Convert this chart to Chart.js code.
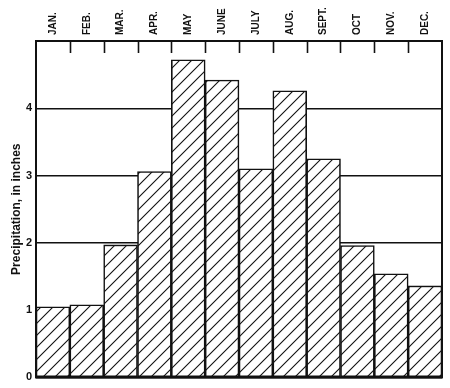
<!DOCTYPE html>
<html>
<head>
<meta charset="utf-8">
<script src="https://cdn.jsdelivr.net/npm/chart.js@4/dist/chart.umd.min.js"></script>
<style>
  html, body { margin: 0; padding: 0; background: #fff; }
  #wrap { width: 450px; height: 388px; }
</style>
</head>
<body>
<div id="wrap"><canvas id="chartPrecip"></canvas></div>
<script>
(function() {
    'use strict';

    var months = ['JAN.', 'FEB.', 'MAR.', 'APR.', 'MAY', 'JUNE', 'JULY', 'AUG.', 'SEPT.', 'OCT', 'NOV.', 'DEC.'];
    var precip = [1.05, 1.08, 1.97, 3.06, 4.72, 4.42, 3.10, 4.26, 3.25, 1.96, 1.54, 1.36];
    var yTicks = [0, 1, 2, 3, 4, 5];

    // hatch "/" pattern
    function hatch() {
        var s = 12;
        var c = document.createElement('canvas');
        c.width = s; c.height = s;
        var g = c.getContext('2d');
        g.fillStyle = '#fff';
        g.fillRect(0, 0, s, s);
        g.strokeStyle = '#111';
        g.lineWidth = 1.1;
        g.beginPath();
        g.moveTo(-1, s + 1); g.lineTo(s + 1, -1);
        g.moveTo(-1, 1); g.lineTo(1, -1);
        g.moveTo(s - 1, s + 1); g.lineTo(s + 1, s - 1);
        g.stroke();
        return g.createPattern(c, 'repeat');
    }

    // frame + short month ticks along the top
    var framePlugin = {
        id: 'frame',
        afterDraw: function(chart) {
            var a = chart.chartArea, ctx = chart.ctx, x = chart.scales.x;
            var w = (a.right - a.left) / months.length;
            ctx.save();
            ctx.strokeStyle = '#111';
            ctx.lineWidth = 1.6;
            for (var i = 1; i < months.length; i++) {
                var px = Math.round(x.getPixelForValue(i) - w / 2) + 0.5;
                ctx.beginPath();
                ctx.moveTo(px, a.top);
                ctx.lineTo(px, a.top + 12);
                ctx.stroke();
            }
            ctx.lineWidth = 2;
            ctx.strokeRect(a.left, a.top, a.right - a.left, a.bottom - a.top);
            ctx.restore();
        }
    };

    var ctx = document.getElementById('chartPrecip');
    new Chart(ctx, {
        type: 'bar',
        data: {
            labels: months,
            datasets: [{
                data: precip,
                backgroundColor: hatch(),
                borderColor: '#111',
                borderWidth: 1.6,
                borderSkipped: false,
                barPercentage: 1,
                categoryPercentage: 1
            }]
        },
        plugins: [framePlugin],
        options: {
            responsive: true,
            maintainAspectRatio: false,
            animation: false,
            layout: { padding: { left: 0, right: 8, top: 0, bottom: 8 } },
            plugins: { legend: { display: false }, tooltip: { enabled: false } },
            scales: {
                x: {
                    position: 'top',
                    grid: { display: false, drawTicks: false },
                    border: { display: false },
                    ticks: {
                        color: '#111',
                        font: { family: 'Liberation Sans', size: 10, weight: 'bold' },
                        minRotation: 90, maxRotation: 90,
                        padding: 6,
                        labelOffset: 12,
                        autoSkip: false
                    },
                    afterFit: function(s) { s.height = 41; }
                },
                y: {
                    min: 0, max: 5,
                    afterBuildTicks: function(s) {
                        s.ticks = yTicks.map(function(v) { return { value: v }; });
                    },
                    grid: { color: '#111', lineWidth: 1.4, drawTicks: false },
                    border: { display: false },
                    ticks: {
                        color: '#111',
                        padding: 4,
                        font: { family: 'Liberation Sans', size: 11, weight: 'bold' },
                        callback: function(v) { return v === 5 ? '' : v; }
                    },
                    title: {
                        display: true,
                        text: 'Precipitation, in inches',
                        color: '#111',
                        font: { family: 'Liberation Sans', size: 12, weight: 'bold' },
                        padding: { top: 9, bottom: 0 }
                    },
                    afterFit: function(s) { s.width = 36; }
                }
            }
        }
    });
})();
</script>
</body>
</html>
